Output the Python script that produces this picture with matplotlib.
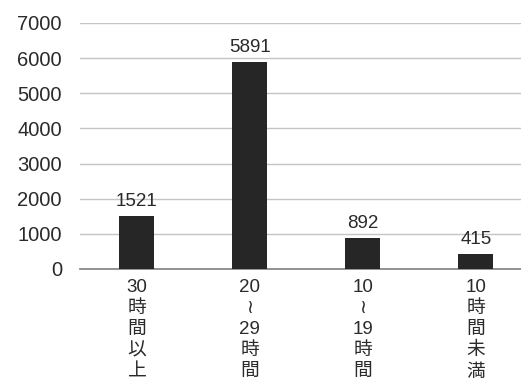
import matplotlib
matplotlib.use("Agg")
import matplotlib.pyplot as plt

categories = ["30\n時\n間\n以\n上", "20\n≀\n29\n時\n間", "10\n≀\n19\n時\n間", "10\n時\n間\n未\n満"]
values = [1521, 5891, 892, 415]
yticks = [0, 1000, 2000, 3000, 4000, 5000, 6000, 7000]

fam = ["Liberation Sans", "Noto Sans CJK JP", "DejaVu Sans"]
plt.rcParams["font.family"] = fam

fig = plt.figure(figsize=(5.21, 3.83), dpi=100)
ax = fig.add_axes([0.1536, 0.2977, 0.8464, 0.6423])

x = list(range(len(values)))
ax.bar(x, values, width=0.31, color="#262626", zorder=3)
for xi, v in zip(x, values):
    ax.text(xi, v + 170, str(v), ha="center", va="bottom", fontsize=13.5, color="#2a2a2a")

ax.set_xlim(-0.504, 3.40)
ax.set_ylim(0, 7000)
ax.set_yticks(yticks)
ax.set_yticklabels([str(t) for t in yticks], fontsize=14.5, color="#2a2a2a")
ax.tick_params(axis="y", length=0, pad=13)
ax.set_xticks(x)
ax.set_xticklabels(categories, fontsize=13.5, color="#2a2a2a", linespacing=1.32, va="top")
ax.tick_params(axis="x", length=0, pad=7)

ax.grid(axis="y", color="#c4c4c4", linewidth=1.0, zorder=0)
for s in ["top", "right", "left"]:
    ax.spines[s].set_visible(False)
ax.spines["bottom"].set_color("#8a8a8a")
ax.spines["bottom"].set_linewidth(1.3)

fig.savefig("out.png", dpi=100)
